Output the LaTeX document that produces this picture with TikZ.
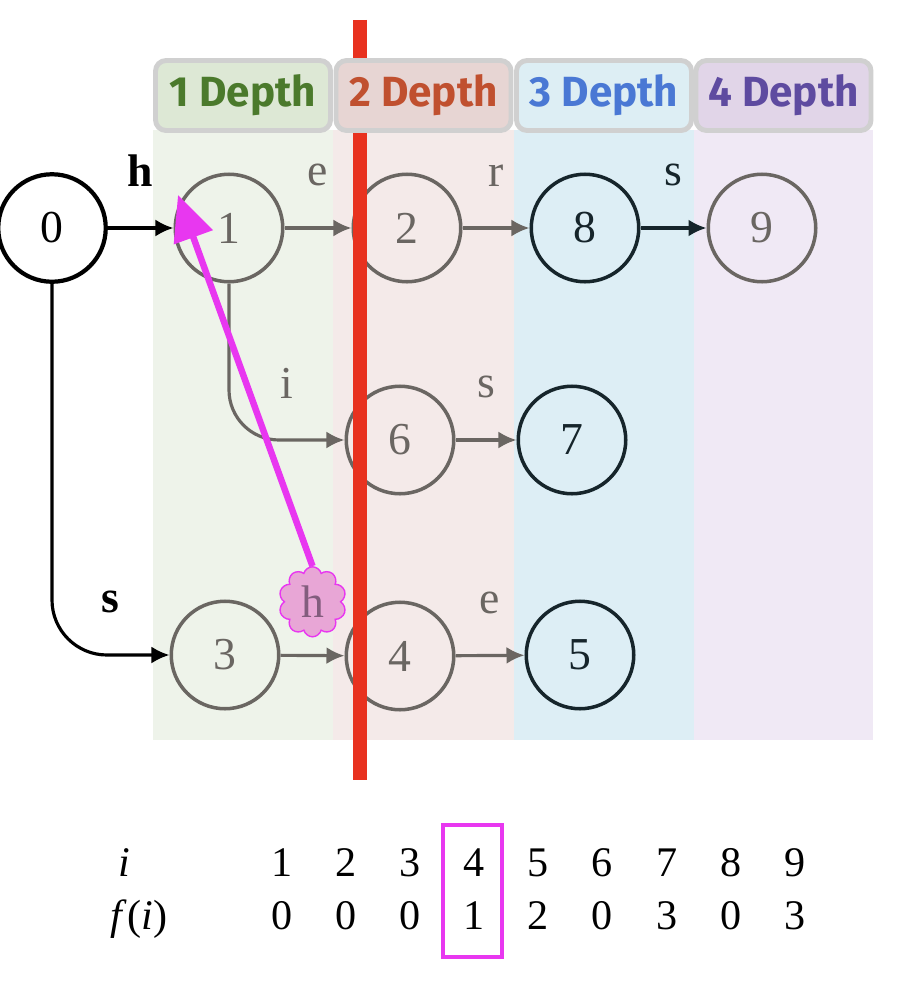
\documentclass[tikz,border=0pt]{standalone}
\usepackage{fontspec}
\setmainfont{Liberation Serif}
\newfontfamily\hdfont{Fira Sans}
\usetikzlibrary{arrows.meta,shapes.symbols}

\definecolor{edgegray}{HTML}{6A6662}
\definecolor{inkdark}{HTML}{16252B}
\definecolor{bandA}{HTML}{EEF3EA}
\definecolor{bandB}{HTML}{F4EAE9}
\definecolor{bandC}{HTML}{DDEEF5}
\definecolor{bandD}{HTML}{F0E9F5}
\definecolor{hdA}{HTML}{DDE8D5}
\definecolor{hdB}{HTML}{E7D5D3}
\definecolor{hdC}{HTML}{DDEEF4}
\definecolor{hdD}{HTML}{E1D5E8}
\definecolor{txtA}{HTML}{4B7A2C}
\definecolor{txtB}{HTML}{C0502F}
\definecolor{txtC}{HTML}{4A78D4}
\definecolor{txtD}{HTML}{5E4BA0}
\definecolor{hdgray}{HTML}{D0D0D0}
\definecolor{redbar}{HTML}{E8321F}
\definecolor{hlmag}{HTML}{E837F0}
\definecolor{cloudpink}{HTML}{E8A6D6}

\begin{document}
\begin{tikzpicture}[
  st/.style={circle,draw=edgegray,line width=2pt,minimum size=2.15cm,inner sep=0pt,text=edgegray,font=\fontsize{26}{28}\selectfont},
  stk/.style={st,draw=inkdark,text=inkdark},
  edge/.style={draw=edgegray,line width=1.8pt,-{Latex[length=3.6mm,width=3.4mm]}},
  edgek/.style={edge,draw=inkdark},
  lbl/.style={inner sep=0pt,text=edgegray,font=\fontsize{26}{28}\selectfont},
  hd/.style={rounded corners=6pt,draw=hdgray,line width=2.8pt,minimum width=3.5cm,minimum height=1.4cm,font=\hdfont\bfseries\fontsize{24}{26}\selectfont},
  cloudy/.style={cloud,cloud puffs=10,aspect=1,draw=hlmag,line width=0.8pt,fill=cloudpink,minimum width=1.35cm,minimum height=1.4cm,inner sep=0pt,text=edgegray!80!hlmag,font=\fontsize{26}{28}\selectfont},
  tb/.style={anchor=base,inner sep=0pt,font=\fontsize{24}{26}\selectfont}]

\useasboundingbox (0,0) rectangle (18.08,-20.12);

% depth bands
\fill[bandA] (3.06,-2.6) rectangle (6.66,-14.8);
\fill[bandB] (6.66,-2.6) rectangle (10.28,-14.8);
\fill[bandC] (10.28,-2.6) rectangle (13.88,-14.8);
\fill[bandD] (13.88,-2.6) rectangle (17.46,-14.8);

% states
\node[stk,draw=black,text=black,line width=2.4pt] (n0) at (1.04,-4.56) {0};
\node[st] (n1) at (4.58,-4.56) {1};
\node[st] (n2) at (8.14,-4.56) {2};
\node[stk] (n8) at (11.70,-4.56) {8};
\node[st] (n9) at (15.24,-4.56) {9};
\node[st] (n6) at (8.0,-8.8) {6};
\node[stk] (n7) at (11.44,-8.8) {7};
\node[st] (n3) at (4.5,-13.1) {3};
\node[st] (n4) at (8.0,-13.12) {4};
\node[stk] (n5) at (11.6,-13.1) {5};

\foreach \from/\to/\sym in {n1/n2/e,n2/n8/r,n6/n7/s,n4/n5/e}
  \draw[edge] (\from) -- (\to) node[lbl,midway,above=0.8cm] {\sym};

\draw[edgek,draw=black] (n0) -- (n1) node[lbl,text=black,midway,above=0.8cm] {\bfseries h};
\draw[edgek] (n8) -- (n9) node[lbl,text=inkdark,midway,above=0.8cm] {s};
\draw[edge,rounded corners=1cm] (n1.south) |- (n6) node[lbl,pos=0.75,above=0.8cm] {i};
\draw[edgek,draw=black,rounded corners=1.1cm] (n0.south) |- (n3) node[lbl,text=black,pos=0.75,above=0.8cm] {\bfseries s};
\draw[edge] (n3) -- (n4) node[cloudy,midway,above=0.36cm] (hcl) {h};

% cut line, then the depth headers on top
\draw[redbar,line width=0.28cm] (7.2,-0.4) -- (7.2,-15.6);

\node[hd,fill=hdA,text=txtA] (d1) at (4.86,-1.91) {1 Depth};
\node[hd,fill=hdB,text=txtB] (d2) at (8.47,-1.91) {2 Depth};
\node[hd,fill=hdC,text=txtC] (d3) at (12.08,-1.91) {3 Depth};
\node[hd,fill=hdD,text=txtD] (d4) at (15.67,-1.91) {4 Depth};

% failure link
\coordinate (tgt) at (3.56,-3.9);
\draw[hlmag,line width=0.13cm,-{Triangle[length=0.9cm,width=0.8cm]}] (hcl.north) -- (tgt);

% failure function table
\node[tb] (ri) at (2.48,-17.52) {\itshape i};
\node[tb] (rf) at (2.78,-18.58) {\textit{f}(\textit{i})};
\foreach \k/\v in {1/0,2/0,3/0,4/1,5/2,6/0,7/3,8/0,9/3} {
  \node[tb] (c\k) at ({5.64+1.282*(\k-1)},-17.52) {\k};
  \node[tb] (v\k) at ({5.64+1.282*(\k-1)},-18.58) {\v};
}
\draw[hlmag,line width=0.08cm] (8.86,-16.5) rectangle (10.04,-19.14);

\end{tikzpicture}
\end{document}
